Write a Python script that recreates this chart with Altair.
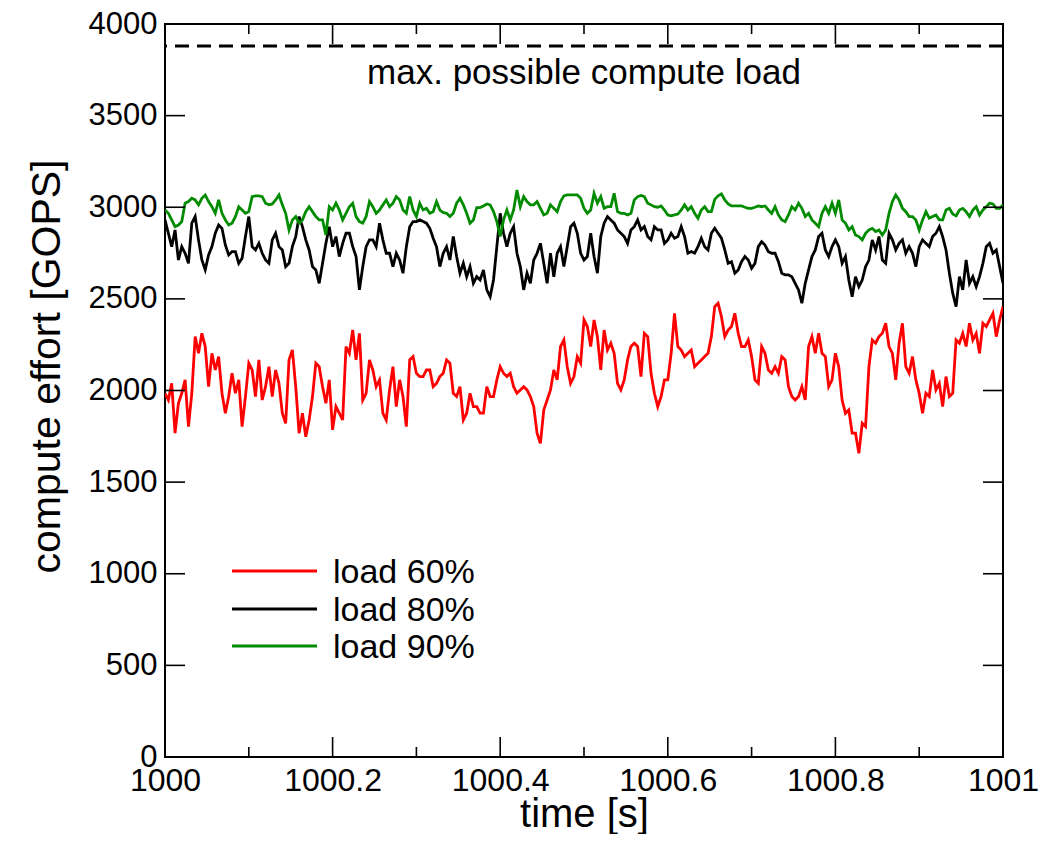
import altair as alt
import pandas as pd
import numpy as np

series_names = ["load 60%", "load 80%", "load 90%"]
series_colors = ["#ff0000", "#000000", "#008b00"]

load60 = [
    1985, 1948, 2039, 1767, 1930, 1985, 2058, 1803, 1985, 2294,
    2203, 2312, 2240, 2021, 2203, 2112, 2185, 1985, 1876, 1967,
    2094, 1985, 2058, 1803, 1967, 2149, 2112, 1967, 2167, 1948,
    2021, 2130, 1967, 2112, 2039, 1876, 1821, 2167, 2221, 2021,
    1767, 1876, 1748, 1839, 1967, 2149, 2130, 2021, 1930, 2058,
    1785, 1912, 1876, 1839, 2240, 2203, 2330, 2167, 2312, 1948,
    1985, 2167, 2112, 2021, 2058,
    1876, 1839, 2003, 2130, 1912, 2058, 1967, 1803, 2167, 2185,
    2094, 2076, 2076, 2112, 2112, 2021, 2039, 2076, 2094, 2167,
    2149, 1985, 1967, 2021, 1839, 1876, 1985, 1912, 1912, 1876,
    1876, 2021, 1967, 1967, 2058, 2130, 2094, 2076, 2094, 2021,
    1985, 2003, 2021, 2003, 1967, 1912, 1767, 1712, 1894, 1948,
    2003, 2112, 2058, 2240, 2276, 2130, 2039, 2076, 2185, 2149,
    2385,
    2349, 2240, 2385, 2294, 2112, 2330, 2221, 2258, 2203, 2039,
    2003, 2058, 2167, 2240, 2258, 2240, 2076, 2312, 2294, 2094,
    1985, 1912, 1967, 2058, 2058, 2203, 2421, 2240, 2221, 2185,
    2203, 2221, 2130, 2149, 2167, 2185, 2203, 2294, 2458, 2476,
    2403, 2294, 2330, 2349, 2421, 2312, 2240, 2240, 2276, 2185,
    2058, 2039, 2240, 2203, 2112, 2094, 2130, 2094, 2185, 2167,
    2021, 1967, 1948,
    1967, 2021, 1948, 2240, 2294, 2203, 2312, 2203, 2185, 2021,
    2058, 2203, 2130, 1948, 1876, 1894, 1767, 1767, 1657, 1821,
    1803, 2130, 2276, 2258, 2294, 2312, 2367, 2240, 2203, 2058,
    2258, 2367, 2130, 2094, 2185, 2058, 1985, 1876, 1985, 1967,
    2112, 2003, 2039, 1912, 2076, 1967, 1985, 2276, 2258, 2312,
    2240, 2367, 2276, 2312, 2203, 2367, 2349, 2385, 2421, 2294,
    2385, 2458,
]

load80 = [
    2931, 2858, 2785, 2876, 2712, 2785, 2749, 2694, 2913, 2949,
    2822, 2712, 2658, 2740, 2785, 2858, 2903, 2885, 2794, 2740,
    2758, 2758, 2694, 2722, 2840, 2949, 2785, 2767, 2803, 2749,
    2712, 2694, 2822, 2858, 2785, 2767, 2676, 2694, 2785, 2840,
    2949, 2894, 2822, 2767, 2676, 2658, 2585, 2694, 2803, 2894,
    2785, 2840, 2731, 2803, 2858, 2858, 2785, 2731, 2549, 2676,
    2785, 2822, 2822, 2785, 2913,
    2822, 2749, 2749, 2676, 2749, 2712, 2640, 2785, 2894, 2922,
    2922, 2931, 2922, 2913, 2885, 2831, 2785, 2676, 2749, 2785,
    2712, 2840, 2731, 2640, 2694, 2621, 2676, 2585, 2621, 2603,
    2658, 2549, 2512, 2603, 2785, 2967, 2858, 2785, 2858, 2894,
    2749, 2676, 2549, 2640, 2585, 2712, 2749, 2803, 2694, 2585,
    2749, 2621, 2749, 2785, 2676, 2785, 2894, 2913, 2858, 2749,
    2712,
    2731, 2858, 2731, 2640, 2840, 2913, 2949, 2931, 2913, 2876,
    2858, 2840, 2803, 2876, 2894, 2931, 2876, 2894, 2840, 2822,
    2894, 2876, 2876, 2803, 2822, 2858, 2831, 2840, 2894, 2840,
    2749, 2758, 2749, 2785, 2831, 2785, 2767, 2858, 2885, 2858,
    2831, 2767, 2694, 2703, 2640, 2658, 2703, 2731, 2712, 2667,
    2694, 2785, 2812, 2794, 2758, 2749, 2749, 2703, 2640, 2631,
    2631, 2621, 2585,
    2549, 2476, 2585, 2658, 2731, 2767, 2840, 2858, 2767, 2731,
    2785, 2822, 2785, 2694, 2731, 2603, 2512, 2621, 2567, 2603,
    2676, 2712, 2822, 2767, 2840, 2712, 2694, 2858, 2822, 2767,
    2803, 2822, 2749, 2785, 2749, 2676, 2785, 2822, 2803, 2785,
    2840, 2858, 2894, 2840, 2767, 2640, 2531, 2458, 2621, 2549,
    2712, 2585, 2621, 2567, 2621, 2694, 2785, 2803, 2749, 2767,
    2676, 2585,
]

load90 = [
    2985, 2967, 2931, 2894, 2903, 2922, 3022, 3031, 3049, 3040,
    3013, 3049, 3067, 3031, 3003, 2967, 3040, 2967, 2931, 2903,
    2913, 2949, 3003, 2985, 2967, 2976, 3058, 3062, 3062, 3058,
    3022, 3013, 3018, 3040, 3067, 3013, 2967, 2876, 2931, 2949,
    2913, 2931, 2976, 3003, 2976, 2949, 2931, 2931, 2849, 3003,
    2985, 3022, 2985, 2931, 2967, 3003, 3022, 2949, 2922, 2913,
    2949, 3031, 3003, 2967, 2985,
    3013, 3040, 3003, 3022, 3058, 3040, 2985, 2967, 3058, 2985,
    2949, 3022, 2985, 2994, 2967, 2976, 3031, 2985, 2971, 2967,
    2949, 2967, 3022, 3049, 3013, 2967, 2913, 2931, 2998, 2998,
    3007, 3018, 3013, 2976, 2922, 2840, 2931, 2985, 2931, 2985,
    3094, 3003, 3058, 3031, 3013, 3013, 3031, 2994, 2958, 2967,
    3013, 2994, 2976, 3031, 3062, 3067, 3067, 3067, 3067, 3049,
    2994,
    2967, 2985, 3076, 3022, 3058, 2994, 3003, 3003, 3076, 2976,
    2967, 2967, 2958, 2967, 3040, 3058, 3064, 3058, 3022, 3013,
    3003, 3000, 3007, 2985, 2958, 2953, 2958, 2963, 2985, 3013,
    2985, 3003, 2967, 2940, 2985, 3003, 2976, 2976, 3043, 3062,
    3073, 3040, 3018, 3007, 3007, 3007, 3007, 3000, 2994, 2994,
    3000, 3007, 3003, 3007, 2985, 2967, 3003, 2958, 2931, 2922,
    2958, 3003, 2985,
    3022, 2994, 2949, 2967, 2931, 2913, 2894, 2967, 3003, 2967,
    3022, 2967, 3040, 2931, 2913, 2876, 2894, 2849, 2840, 2822,
    2858, 2876, 2885, 2867, 2876, 2849, 2876, 2967, 3031, 3067,
    3040, 2994, 2976, 2949, 2949, 2931, 2876, 2931, 2976, 2940,
    2949, 2958, 2931, 2931, 2985, 2994, 2963, 2953, 2985, 2994,
    2976, 2949, 2985, 3003, 2958, 2985, 3003, 3022, 3018, 2994,
    2994, 3013,
]

max_load = 3880
max_label = "max. possible compute load"
x_major = [1000.0, 1000.2, 1000.4, 1000.6, 1000.8, 1001.0]
x_minor = [1000.1, 1000.3, 1000.5, 1000.7, 1000.9]
y_major = [0, 500, 1000, 1500, 2000, 2500, 3000, 3500, 4000]

W, H = 838, 733
FONT = "Liberation Sans"
XT = "time [s]"
YT = "compute effort [GOPS]"

frames = []
for name, vals in zip(series_names, [load60, load80, load90]):
    t = np.linspace(1000.0, 1001.0, len(vals))
    frames.append(pd.DataFrame({"time": t, "value": vals, "series": name}))
df = pd.concat(frames, ignore_index=True)

xs = alt.Scale(domain=[1000, 1001], nice=False, zero=False)
ys = alt.Scale(domain=[0, 4000], nice=False, zero=False)

x_axis = alt.Axis(
    values=x_major, format="~f",
    titleFontSize=40, titleFont=FONT, titleFontWeight="normal",
    titleX=W / 2, titleY=69, titleBaseline="alphabetic",
    labelFontSize=32, labelFont=FONT, labelBaseline="alphabetic",
    labelPadding=33, labelFlush=False, labelOverlap=False,
    ticks=False, tickSize=0, domain=False, grid=False,
    labelColor="black", titleColor="black")
y_axis = alt.Axis(
    values=y_major, format="d",
    titleFontSize=41, titleFont=FONT, titleFontWeight="normal",
    titleX=-106, titleY=342, titleBaseline="alphabetic", titleAlign="center",
    labelFontSize=31, labelFont=FONT, labelPadding=8, labelOverlap=False,
    ticks=False, tickSize=0, domain=False, grid=False,
    labelColor="black", titleColor="black")

def X(field):
    return alt.X(field, scale=xs, title=XT, axis=x_axis)

def Y(field):
    return alt.Y(field, scale=ys, title=YT, axis=y_axis)

lines = alt.Chart(df).mark_line(strokeWidth=2.8, clip=True).encode(
    x=X("time:Q"),
    y=Y("value:Q"),
    color=alt.Color("series:N", scale=alt.Scale(domain=series_names, range=series_colors), legend=None),
)

xmaj = pd.DataFrame({"x": x_major})
xmin = pd.DataFrame({"x": x_minor})
ymaj = pd.DataFrame({"y": y_major})

def xticks(data, length):
    bottom = alt.Chart(data).mark_rule(color="black", strokeWidth=1.6).encode(
        x=X("x:Q"), y=alt.value(H), y2=alt.value(H - length))
    top = alt.Chart(data).mark_rule(color="black", strokeWidth=1.6).encode(
        x=X("x:Q"), y=alt.value(0), y2=alt.value(length))
    return [bottom, top]

yleft = alt.Chart(ymaj).mark_rule(color="black", strokeWidth=1.6).encode(
    y=Y("y:Q"), x=alt.value(0), x2=alt.value(20))
yright = alt.Chart(ymaj).mark_rule(color="black", strokeWidth=1.6).encode(
    y=Y("y:Q"), x=alt.value(W - 20), x2=alt.value(W))

dash = alt.Chart(pd.DataFrame({"y": [max_load]})).mark_rule(
    color="black", strokeWidth=3, strokeDash=[14, 8]).encode(y=Y("y:Q"))

note = alt.Chart(pd.DataFrame({"x": [1000.5], "y": [3675], "t": [max_label]})).mark_text(
    font=FONT, fontSize=35, align="center", baseline="alphabetic", color="black").encode(
    x=X("x:Q"), y=Y("y:Q"), text="t:N")

one = pd.DataFrame({"a": [0]})
legend_layers = []
row_y = [547, 585, 622]
for name, col, yy in zip(series_names, series_colors, row_y):
    legend_layers.append(alt.Chart(one).mark_rule(color=col, strokeWidth=3).encode(
        x=alt.value(67), x2=alt.value(152), y=alt.value(yy)))
    legend_layers.append(alt.Chart(one).mark_text(
        text=name, font=FONT, fontSize=34, align="left", baseline="alphabetic", color="black").encode(
        x=alt.value(168), y=alt.value(yy + 12)))

layers = [lines] + xticks(xmaj, 20) + xticks(xmin, 10) + [yleft, yright, dash, note] + legend_layers

chart = alt.layer(*layers).properties(
    width=W, height=H,
    background="white",
    padding={"left": 157, "top": 16, "right": 40, "bottom": 77},
    autosize=alt.AutoSizeParams(type="none"),
).configure_view(stroke="black", strokeWidth=2)

chart.save("out.html", embed_options={"renderer": "svg", "actions": False})
